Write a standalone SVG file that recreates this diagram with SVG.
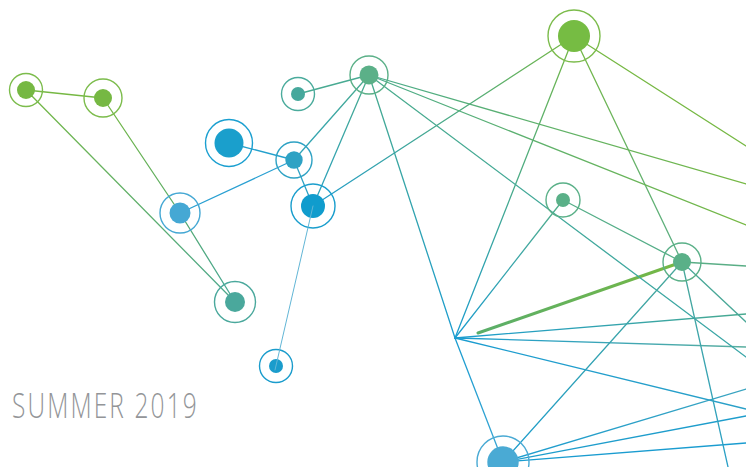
<svg xmlns="http://www.w3.org/2000/svg" width="746" height="467" viewBox="0 0 746 467">
<style>
.e{fill:none;stroke-width:1.3;stroke-linecap:round}
.thick{stroke-width:3}
.ring{fill:none;stroke-width:1.4}
.title{font-family:"Open Sans","Liberation Sans",sans-serif;font-weight:300;font-size:35px;fill:#939598}
</style>
<defs>
<linearGradient id="g2" gradientUnits="userSpaceOnUse" x1="26" y1="90" x2="235" y2="302"><stop offset="0" stop-color="#76b843"/><stop offset="1" stop-color="#4da88f"/></linearGradient>
<linearGradient id="g3" gradientUnits="userSpaceOnUse" x1="103" y1="98" x2="180" y2="213"><stop offset="0" stop-color="#76b843"/><stop offset="1" stop-color="#5aac6a"/></linearGradient>
<linearGradient id="g4" gradientUnits="userSpaceOnUse" x1="180" y1="213" x2="235" y2="302"><stop offset="0" stop-color="#55aa70"/><stop offset="1" stop-color="#4aa898"/></linearGradient>
<linearGradient id="g8" gradientUnits="userSpaceOnUse" x1="369" y1="75" x2="294" y2="160"><stop offset="0" stop-color="#4aab8c"/><stop offset="1" stop-color="#2ea3bd"/></linearGradient>
<linearGradient id="g9" gradientUnits="userSpaceOnUse" x1="369" y1="75" x2="313" y2="206"><stop offset="0" stop-color="#4aab8c"/><stop offset="1" stop-color="#2aa1c2"/></linearGradient>
<linearGradient id="g11" gradientUnits="userSpaceOnUse" x1="313" y1="206" x2="574" y2="36"><stop offset="0" stop-color="#1f9ccf"/><stop offset="1" stop-color="#76b843"/></linearGradient>
<linearGradient id="g12" gradientUnits="userSpaceOnUse" x1="369" y1="75" x2="455" y2="338"><stop offset="0" stop-color="#4aab8c"/><stop offset="1" stop-color="#1a9cd0"/></linearGradient>
<linearGradient id="g13" gradientUnits="userSpaceOnUse" x1="455" y1="338" x2="503" y2="462"><stop offset="0" stop-color="#1a9cd0"/><stop offset="1" stop-color="#3aa6d4"/></linearGradient>
<linearGradient id="g14" gradientUnits="userSpaceOnUse" x1="455" y1="338" x2="574" y2="36"><stop offset="0" stop-color="#1a9cd0"/><stop offset="1" stop-color="#76b843"/></linearGradient>
<linearGradient id="g15" gradientUnits="userSpaceOnUse" x1="455" y1="338" x2="563" y2="200"><stop offset="0" stop-color="#1a9cd0"/><stop offset="1" stop-color="#55ae88"/></linearGradient>
<linearGradient id="g16" gradientUnits="userSpaceOnUse" x1="455" y1="338" x2="746" y2="314"><stop offset="0" stop-color="#1a9cd0"/><stop offset="1" stop-color="#4aaa90"/></linearGradient>
<linearGradient id="g17" gradientUnits="userSpaceOnUse" x1="455" y1="338" x2="746" y2="347"><stop offset="0" stop-color="#1a9cd0"/><stop offset="1" stop-color="#5aae9f"/></linearGradient>
<linearGradient id="g18" gradientUnits="userSpaceOnUse" x1="455" y1="338" x2="746" y2="409"><stop offset="0" stop-color="#1a9cd0"/><stop offset="1" stop-color="#2aa0c8"/></linearGradient>
<linearGradient id="g19" gradientUnits="userSpaceOnUse" x1="478" y1="333" x2="682" y2="262"><stop offset="0" stop-color="#5aae6a"/><stop offset="1" stop-color="#76b843"/></linearGradient>
<linearGradient id="g20" gradientUnits="userSpaceOnUse" x1="503" y1="462" x2="682" y2="262"><stop offset="0" stop-color="#1a9cd0"/><stop offset="1" stop-color="#4aa898"/></linearGradient>
<linearGradient id="g21" gradientUnits="userSpaceOnUse" x1="503" y1="462" x2="746" y2="389"><stop offset="0" stop-color="#1a9cd0"/><stop offset="1" stop-color="#3aa4c0"/></linearGradient>
<linearGradient id="g24" gradientUnits="userSpaceOnUse" x1="574" y1="36" x2="682" y2="262"><stop offset="0" stop-color="#76b843"/><stop offset="1" stop-color="#5aae86"/></linearGradient>
<linearGradient id="g26" gradientUnits="userSpaceOnUse" x1="369" y1="75" x2="746" y2="184"><stop offset="0" stop-color="#4aab8c"/><stop offset="1" stop-color="#76b843"/></linearGradient>
<linearGradient id="g27" gradientUnits="userSpaceOnUse" x1="369" y1="75" x2="746" y2="225"><stop offset="0" stop-color="#4aab8c"/><stop offset="1" stop-color="#76b843"/></linearGradient>
<linearGradient id="g28" gradientUnits="userSpaceOnUse" x1="369" y1="75" x2="746" y2="357"><stop offset="0" stop-color="#4aab8c"/><stop offset="1" stop-color="#3aa6a8"/></linearGradient>
<linearGradient id="g32" gradientUnits="userSpaceOnUse" x1="682" y1="262" x2="728" y2="467"><stop offset="0" stop-color="#4aa898"/><stop offset="1" stop-color="#2aa0c8"/></linearGradient>
</defs>
<rect width="746" height="467" fill="#ffffff"/>
<g id="connectors">
<line class="e" x1="26" y1="90" x2="103" y2="98" stroke="#76b843"/>
<line class="e" x1="26" y1="90" x2="235" y2="302" stroke="url(#g2)"/>
<line class="e" x1="103" y1="98" x2="180" y2="213" stroke="url(#g3)"/>
<line class="e" x1="180" y1="213" x2="235" y2="302" stroke="url(#g4)"/>
<line class="e" x1="180" y1="213" x2="294" y2="160" stroke="#2aa0d2"/>
<line class="e" x1="229" y1="143" x2="294" y2="160" stroke="#23a0cc"/>
<line class="e" x1="298" y1="94" x2="369" y2="75" stroke="#48aa92"/>
<line class="e" x1="369" y1="75" x2="294" y2="160" stroke="url(#g8)"/>
<line class="e" x1="369" y1="75" x2="313" y2="206" stroke="url(#g9)"/>
<line class="e" x1="294" y1="160" x2="313" y2="206" stroke="#2ea2c5"/>
<line class="e" x1="313" y1="206" x2="574" y2="36" stroke="url(#g11)"/>
<line class="e" x1="369" y1="75" x2="455" y2="338" stroke="url(#g12)"/>
<line class="e" x1="455" y1="338" x2="503" y2="462" stroke="url(#g13)"/>
<line class="e" x1="455" y1="338" x2="574" y2="36" stroke="url(#g14)"/>
<line class="e" x1="455" y1="338" x2="563" y2="200" stroke="url(#g15)"/>
<line class="e" x1="455" y1="338" x2="746" y2="314" stroke="url(#g16)"/>
<line class="e" x1="455" y1="338" x2="746" y2="347" stroke="url(#g17)"/>
<line class="e" x1="455" y1="338" x2="746" y2="409" stroke="url(#g18)"/>
<line class="e thick" x1="478" y1="333" x2="682" y2="262" stroke="url(#g19)"/>
<line class="e" x1="503" y1="462" x2="682" y2="262" stroke="url(#g20)"/>
<line class="e" x1="503" y1="462" x2="746" y2="389" stroke="url(#g21)"/>
<line class="e" x1="503" y1="462" x2="746" y2="416" stroke="#1e9dcc"/>
<line class="e" x1="503" y1="462" x2="746" y2="443" stroke="#1a9cd0"/>
<line class="e" x1="574" y1="36" x2="682" y2="262" stroke="url(#g24)"/>
<line class="e" x1="574" y1="36" x2="746" y2="146" stroke="#76b843"/>
<line class="e" x1="369" y1="75" x2="746" y2="184" stroke="url(#g26)"/>
<line class="e" x1="369" y1="75" x2="746" y2="225" stroke="url(#g27)"/>
<line class="e" x1="369" y1="75" x2="746" y2="357" stroke="url(#g28)"/>
<line class="e" x1="563" y1="200" x2="682" y2="262" stroke="#55ae88"/>
<line class="e" x1="682" y1="262" x2="746" y2="266" stroke="#5aae86"/>
<line class="e" x1="682" y1="262" x2="746" y2="322" stroke="#4aa898"/>
<line class="e" x1="682" y1="262" x2="728" y2="467" stroke="url(#g32)"/>
</g>
<g id="n1"><circle cx="26" cy="90" r="9" fill="#76b843"/><circle class="ring" cx="26" cy="90" r="16.5" stroke="#7cbc4c"/></g>
<g id="n2"><circle cx="103" cy="98" r="9" fill="#76b843"/><circle class="ring" cx="103" cy="98" r="19" stroke="#7cbc4c"/></g>
<g id="n3"><circle cx="180" cy="213" r="10.5" fill="#45a8d4"/><circle class="ring" cx="180" cy="213" r="20" stroke="#45a8d4"/></g>
<g id="n4"><circle cx="229" cy="143" r="14.5" fill="#1a9fcc"/><circle class="ring" cx="229" cy="143" r="23.5" stroke="#1a9fd0"/></g>
<g id="n5"><circle cx="298" cy="94" r="7" fill="#46a89c"/><circle class="ring" cx="298" cy="94" r="16.5" stroke="#4aab9c"/></g>
<g id="n6"><circle cx="369" cy="75" r="9.5" fill="#5bb088"/><circle class="ring" cx="369" cy="75" r="19" stroke="#5bb088"/></g>
<g id="n7"><circle cx="294" cy="160" r="8.7" fill="#2ea2c4"/><circle class="ring" cx="294" cy="160" r="18" stroke="#2ea2c4"/></g>
<g id="n8"><circle cx="313" cy="206" r="12" fill="#109ccd"/><circle class="ring" cx="313" cy="206" r="22" stroke="#1a9ecd"/></g>
<g id="n9"><circle cx="235" cy="302" r="10" fill="#4aa89c"/><circle class="ring" cx="235" cy="302" r="20.5" stroke="#4aa89c"/></g>
<g id="n10"><circle cx="276" cy="366" r="7" fill="#1a9ccc"/><circle class="ring" cx="276" cy="366" r="16.5" stroke="#1a9ccc"/></g>
<g id="n11"><circle cx="574" cy="36" r="16" fill="#76bc43"/><circle class="ring" cx="574" cy="36" r="26" stroke="#7cbc4c"/></g>
<g id="n12"><circle cx="563" cy="200" r="7" fill="#5ab088"/><circle class="ring" cx="563" cy="200" r="17" stroke="#5ab088"/></g>
<g id="n13"><circle cx="682" cy="262" r="9" fill="#5ab088"/><circle class="ring" cx="682" cy="262" r="19" stroke="#5ab088"/></g>
<g id="n14"><circle cx="503" cy="462" r="15.7" fill="#4aaad4"/><circle class="ring" cx="503" cy="462" r="26" stroke="#4aaad4"/></g>
<g id="connector-top"><line class="e" x1="313" y1="206" x2="275" y2="370" stroke="#62b6d6" style="stroke-width:1"/></g>
<g id="title"><text class="title" transform="scale(0.7,1)" x="17.1" y="418" textLength="264" lengthAdjust="spacing">SUMMER 2019</text></g>
</svg>
